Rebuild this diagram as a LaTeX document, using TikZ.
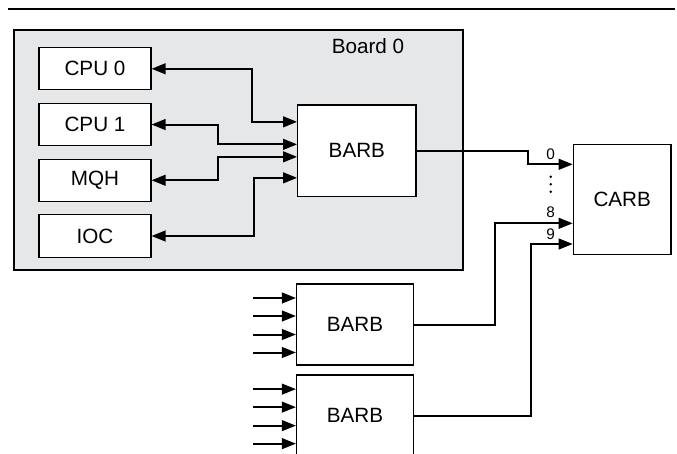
\documentclass[tikz,border=0pt]{standalone}
\usepackage{fontspec}
\setmainfont{Liberation Sans}
\usetikzlibrary{arrows.meta,calc,positioning}
\definecolor{boardgray}{RGB}{230,231,233}
\tikzset{
    >={Triangle[length=10.5pt,width=8pt]},
    txt/.style={font=\fontsize{15.5}{18}\selectfont},
    unit/.style={rectangle, draw, fill=white, line width=0.8pt, txt,
        minimum width=84pt, minimum height=31.7pt},
    arb/.style={rectangle, draw, fill=white, line width=0.9pt, txt},
    board/.style={draw, fill=boardgray, line width=1.6pt},
    link/.style={line width=1.5pt},
    port/.style={font=\fontsize{11.5}{13}\selectfont, inner sep=0pt}
}

\begin{document}
\begin{tikzpicture}[x=0.75pt, y=-0.75pt]
  \useasboundingbox (0,0) rectangle (677,453);

  \draw[line width=1.9pt] (8,9) -- (675,9);

  % board 0
  \draw[board] (14,30) rectangle (463,270);
  \node[txt] (title) at (368,46) {Board 0};

  \node[unit]                    (cpu0) at (95,68.8) {CPU 0};
  \node[unit, below=9.3pt of cpu0] (cpu1) {CPU 1};
  \node[unit, below=9.3pt of cpu1] (mqh)  {MQH};
  \node[unit, below=9.3pt of mqh]  (ioc)  {IOC};

  \node[arb, minimum width=88.7pt, minimum height=68.8pt] (barb) at (356.85,150.85) {BARB};

  \draw[link,<->] (cpu0.east) -| ($(barb.west)+(-45,-29)$) -- ($(barb.west)+(0,-29)$);
  \draw[link,<->] (cpu1.east) -| ($(barb.west)+(-79.5,-6.5)$) -- ($(barb.west)+(0,-6.5)$);
  \draw[link,<->] (mqh.east)  -| ($(barb.west)+(-79.5,6)$) -- ($(barb.west)+(0,6)$);
  \draw[link,<->] (ioc.east)  -| ($(barb.west)+(-43,27)$) -- ($(barb.west)+(0,27)$);

  % central arbiter and the other boards
  \node[arb, minimum width=73.3pt, minimum height=82.5pt] (carb) at (622.2,199.3) {CARB};
  \node[arb, minimum width=87.5pt, minimum height=60.75pt, line width=1.1pt] (barbA) at (355,324.5) {BARB};
  \node[arb, minimum width=87.5pt, minimum height=60.75pt, line width=1.1pt, below=6.5pt of barbA] (barbB) {BARB};

  \draw[link,->] (barb.east)  -| ($(carb.west)+(-45,-35)$) -- ($(carb.west)+(0,-35)$);
  \draw[link,->] (barbA.east) -| ($(carb.west)+(-77.3,24)$) -- ($(carb.west)+(0,24)$);
  \draw[link,->] (barbB.east) -| ($(carb.west)+(-41.6,44.7)$) -- ($(carb.west)+(0,44.7)$);

  \foreach \d in {-26.5,-8.5,10,28}{
    \draw[link,->] ($(barbA.west)+(-43,\d)$) -- ($(barbA.west)+(0,\d)$);
    \draw[link,->] ($(barbB.west)+(-43,\d)$) -- ($(barbB.west)+(0,\d)$);
  }

  \node[port] (p0) at ($(carb.west)+(-22,-45)$)  {0};
  \node[port] (p8) at ($(carb.west)+(-22,13)$)   {8};
  \node[port] (p9) at ($(carb.west)+(-22,34.5)$) {9};
  \foreach \d in {-22.5,-15,-7.5}
    \fill ($(carb.west)+(-22,\d)$) circle (1pt);
\end{tikzpicture}
\end{document}
